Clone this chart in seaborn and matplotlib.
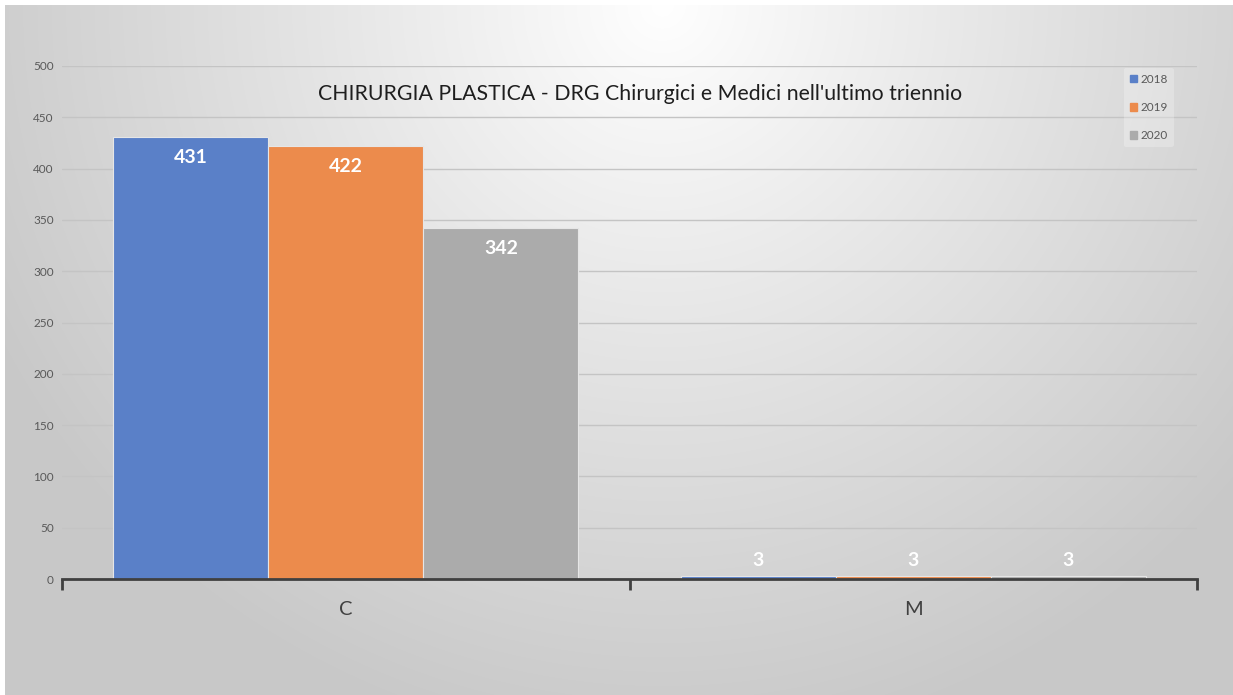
import numpy as np
import pandas as pd
import matplotlib
matplotlib.use("Agg")
import matplotlib.pyplot as plt
import seaborn as sns

# Chart data
categories = ["C", "M"]
years = ["2018", "2019", "2020"]
values_2018 = [431, 3]
values_2019 = [422, 3]
values_2020 = [342, 3]
title = "CHIRURGIA PLASTICA - DRG Chirurgici e Medici nell'ultimo triennio"

colors = ["#5A80C8", "#EC8B4C", "#ABABAB"]

df = pd.DataFrame({
    "categoria": categories * 3,
    "anno": [y for y in years for _ in categories],
    "valore": values_2018 + values_2019 + values_2020,
})

sns.set_theme(style="white")
plt.rcParams["font.family"] = ["Lato", "DejaVu Sans"]

W, H = 1233, 695
fig = plt.figure(figsize=(W / 100, H / 100), dpi=100)
fig.patch.set_facecolor("white")

# Soft radial background, bright near the top centre
bg = fig.add_axes([5 / W, 0, 1 - 5 / W, 1 - 5 / H], zorder=-10)
yy, xx = np.mgrid[0:H, 0:W].astype(float)
d = np.hypot(xx - 660, yy)
shade = 1 - 0.20 * np.clip(d / 700, 0, 1.5) ** 0.95
shade = np.clip(shade, 0.785, 1)
bg.imshow(np.dstack([shade] * 3), aspect="auto", extent=[0, 1, 0, 1])
bg.set_axis_off()

ax = fig.add_axes([62 / W, 1 - 579 / H, (1197 - 62) / W, (579 - 66) / H])
ax.set_facecolor("none")

sns.barplot(data=df, x="categoria", y="valore", hue="anno", palette=colors,
            width=0.82, ax=ax, edgecolor="#e6e6e6", linewidth=0.8,
            saturation=1, zorder=3, legend=False)

ax.set_ylim(0, 500)
ax.set_xlim(-0.5, 1.5)
ax.set_yticks(np.arange(0, 501, 50))
ax.yaxis.grid(True, color="#c4c4c4", linewidth=1, zorder=0)
ax.set_axisbelow(True)
ax.tick_params(axis="y", length=0, labelsize=8.5, labelcolor="#595959", pad=6)

# Category boundary ticks and centred category labels
ax.set_xticks([-0.5, 0.5, 1.5])
ax.set_xticklabels([])
ax.set_xticks([0, 1], minor=True)
ax.set_xticklabels(categories, minor=True)
ax.tick_params(axis="x", which="major", direction="out", length=8, width=2,
               color="#404040", bottom=True)
ax.tick_params(axis="x", which="minor", length=0, labelsize=14.5,
               labelcolor="#404040", pad=16)

for s in ["top", "right", "left"]:
    ax.spines[s].set_visible(False)
ax.spines["bottom"].set_color("#404040")
ax.spines["bottom"].set_linewidth(2)
ax.spines["bottom"].set_zorder(5)
ax.set_xlabel("")
ax.set_ylabel("")

# Value labels
for cont in ax.containers:
    for bar in cont:
        v = bar.get_height()
        cx = bar.get_x() + bar.get_width() / 2
        off = -15 if v > 40 else 11
        ax.annotate(f"{v:.0f}", (cx, v), xytext=(0, off), textcoords="offset points",
                    ha="center", va="center", color="white", fontsize=14,
                    fontweight="bold", zorder=6)

fig.text(640 / W, 1 - 94 / H, title, ha="center", va="center",
         fontsize=15.3, color="#1e1e1e")

handles = [plt.Rectangle((0, 0), 1, 1, color=c) for c in colors]
leg = fig.legend(handles, years, loc="upper left",
                 bbox_to_anchor=(1118 / W, 1 - 62 / H),
                 frameon=True, fontsize=8.5, handlelength=0.6, handleheight=0.6,
                 handletextpad=0.3, labelspacing=1.45, borderpad=0.5)
leg.get_frame().set_facecolor("white")
leg.get_frame().set_alpha(0.25)
leg.get_frame().set_edgecolor("none")
for t in leg.get_texts():
    t.set_color("#595959")

fig.savefig("out.png", dpi=100)
